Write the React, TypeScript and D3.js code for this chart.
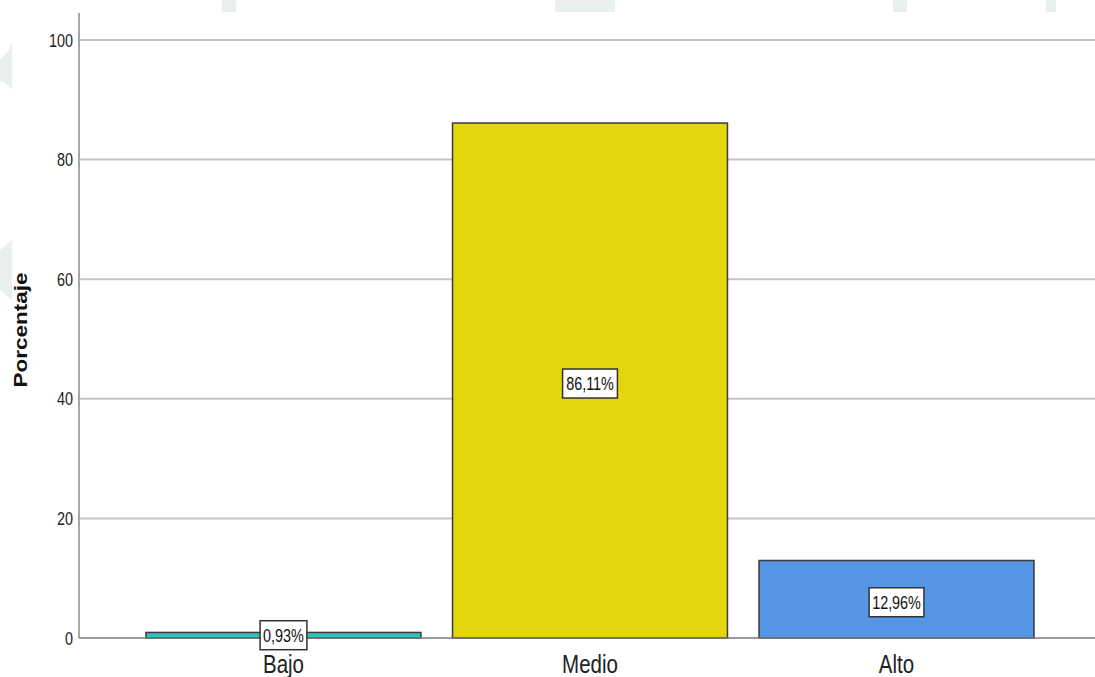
import React from "react";
import * as d3 from "d3";

const categories = ["Bajo", "Medio", "Alto"];
const values = [0.93, 86.11, 12.96];
const valueLabels = ["0,93%", "86,11%", "12,96%"];
const colors = ["#22c7c0", "#e3d60c", "#5595e6"];
const yTicks = [0, 20, 40, 60, 80, 100];
const yLabel = "Porcentaje";

const W = 1095;
const H = 677;
const FONT = "Liberation Sans, Arial, sans-serif";
const SQ = 0.8;

export default function App() {
  const x = d3
    .scaleBand<string>()
    .domain(categories)
    .range([79, 1101])
    .paddingInner(0.103)
    .paddingOuter(0.2186);
  const y = d3.scaleLinear().domain([0, 100]).range([638, 40]);
  const bw = x.bandwidth();
  const charW = (s: string) =>
    s.split("").reduce((a, c) => a + (c === "," ? 0.278 : c === "%" ? 0.889 : 0.556), 0);

  return (
    <svg
      width={W}
      height={H}
      style={{ position: "absolute", left: 0, top: 0, background: "#fff" }}
    >
      {/* faint watermark in margins */}
      <g fill="#e9f0ed">
        <rect x={222} y={0} width={14} height={12} />
        <rect x={555} y={0} width={60} height={12} />
        <rect x={893} y={0} width={14} height={12} />
        <rect x={1046} y={0} width={10} height={12} />
        <path d="M0,60 Q12,50 12,40 L12,90 Q4,80 0,82 Z" />
        <path d="M0,250 L12,240 L12,300 L0,290 Z" />
      </g>
      <rect x={12} y={13} width={W - 12} height={H - 13} fill="#fff" />

      {/* gridlines */}
      {yTicks
        .filter((t) => t > 0)
        .map((t) => (
          <line
            key={t}
            x1={80}
            x2={W}
            y1={y(t)}
            y2={y(t)}
            stroke="#c4c4c4"
            strokeWidth={2}
          />
        ))}

      {/* bars */}
      {categories.map((c, i) => (
        <rect
          key={c}
          x={x(c)!}
          y={y(values[i])}
          width={bw}
          height={y(0) - y(values[i])}
          fill={colors[i]}
          stroke="#3a3a3a"
          strokeWidth={1.5}
        />
      ))}

      {/* axes */}
      <line x1={79} x2={79} y1={13} y2={638} stroke="#8a8a8a" strokeWidth={1.5} />
      <line x1={79} x2={W} y1={638} y2={638} stroke="#7a7a7a" strokeWidth={1.5} />

      {/* y ticks labels */}
      {yTicks.map((t) => (
        <text
          key={t}
          transform={`translate(73,${y(t) + 6.5}) scale(${SQ},1)`}
          textAnchor="end"
          fontFamily={FONT}
          fontSize={18}
          fill="#222"
        >
          {t}
        </text>
      ))}

      {/* y label */}
      <text
        transform={`translate(27,330) rotate(-90) scale(1,${SQ})`}
        textAnchor="middle"
        fontFamily={FONT}
        fontSize={22.5}
        fontWeight="bold"
        fill="#111"
      >
        {yLabel}
      </text>

      {/* category labels */}
      {categories.map((c) => (
        <text
          key={c}
          transform={`translate(${x(c)! + bw / 2},673) scale(0.82,1)`}
          textAnchor="middle"
          fontFamily={FONT}
          fontSize={25}
          fill="#222"
        >
          {c}
        </text>
      ))}

      {/* value labels */}
      {categories.map((c, i) => {
        const cx = x(c)! + bw / 2;
        const cy = (y(values[i]) + y(0)) / 2 + (values[i] > 5 ? 3 : 0);
        const tw = charW(valueLabels[i]) * 18 * SQ + 6;
        const bh = 29;
        return (
          <g key={c}>
            <rect
              x={cx - tw / 2}
              y={cy - bh / 2}
              width={tw}
              height={bh}
              fill="#fff"
              stroke="#333"
              strokeWidth={1.5}
            />
            <text
              transform={`translate(${cx},${cy + 6.5}) scale(${SQ},1)`}
              textAnchor="middle"
              fontFamily={FONT}
              fontSize={18}
              fill="#111"
            >
              {valueLabels[i]}
            </text>
          </g>
        );
      })}
    </svg>
  );
}
